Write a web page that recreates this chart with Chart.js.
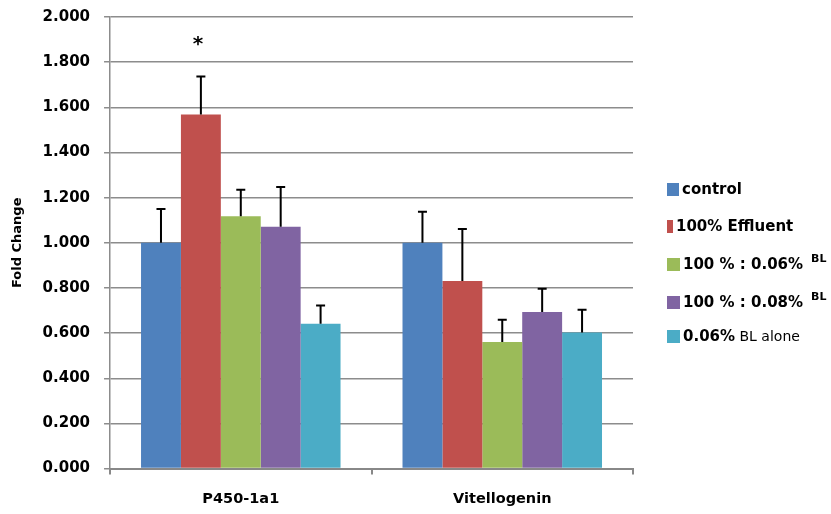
<!DOCTYPE html>
<html>
<head>
<meta charset="utf-8">
<script src="https://cdn.jsdelivr.net/npm/chart.js@4.4.1/dist/chart.umd.min.js"></script>
<style>
  html, body { margin: 0; padding: 0; background: #fff; }
  #wrap { position: relative; width: 831px; height: 514px; }
  #legend { position: absolute; left: 667px; top: 0; font-family: "DejaVu Sans", sans-serif; color: #000; }
  .item { position: absolute; left: 0; white-space: nowrap; display: flex; align-items: center; height: 18px; }
  .sw { height: 13px; margin-right: 3px; }
  .b { font-weight: bold; font-size: 15px; }
  .r { font-weight: normal; font-size: 14px; }
  sup { font-size: 11px; font-weight: bold; position: relative; top: -6px; vertical-align: baseline; margin-left: 8px; }
</style>
</head>
<body>
<div id="wrap">
  <canvas id="chart" width="831" height="514"></canvas>
  <div id="legend"></div>
</div>
<script>
// data
const genes = ['P450-1a1', 'Vitellogenin']
const seriesNames = ['control', '100% Effluent', '100 % : 0.06% BL', '100 % : 0.08% BL', '0.06% BL alone']
const colors = ['#4F81BD', '#C0504D', '#9BBB59', '#8064A2', '#4BACC6']

const control = [1.000, 1.000]
const effluent = [1.568, 0.831]
const mix006 = [1.118, 0.561]
const mix008 = [1.071, 0.694]
const blAlone = [0.642, 0.603]

// upper error (+SD)
const errControl = [0.150, 0.138]
const errEffluent = [0.168, 0.230]
const errMix006 = [0.117, 0.098]
const errMix008 = [0.176, 0.103]
const errBlAlone = [0.080, 0.100]

const yTicks = [0, 0.2, 0.4, 0.6, 0.8, 1.0, 1.2, 1.4, 1.6, 1.8, 2.0]

// significance marks: series index, category index
const sigMarks = [{ series: 1, index: 0, text: '*' }]

const values = [control, effluent, mix006, mix008, blAlone]
const errors = [errControl, errEffluent, errMix006, errMix008, errBlAlone]

const tickFont = { family: 'DejaVu Sans', size: 15, weight: 'bold' }

//Error bars + asterisk
const errorBars = {
    id: 'errorBars',
    afterDatasetsDraw(chart) {
        const ctx = chart.ctx
        const y = chart.scales.y
        ctx.save()
        ctx.strokeStyle = '#000'
        ctx.lineWidth = 2
        chart.data.datasets.forEach((ds, i) => {
            const meta = chart.getDatasetMeta(i)
            meta.data.forEach((bar, j) => {
                const top = y.getPixelForValue(ds.data[j] + ds.err[j])
                ctx.beginPath()
                ctx.moveTo(bar.x, bar.y)
                ctx.lineTo(bar.x, top)
                ctx.moveTo(bar.x - 4.5, top)
                ctx.lineTo(bar.x + 4.5, top)
                ctx.stroke()
            })
        })
        ctx.fillStyle = '#000'
        ctx.font = 'bold 20px "DejaVu Sans"'
        ctx.textAlign = 'center'
        ctx.textBaseline = 'middle'
        sigMarks.forEach(m => {
            const bar = chart.getDatasetMeta(m.series).data[m.index]
            const ds = chart.data.datasets[m.series]
            const top = y.getPixelForValue(ds.data[m.index] + ds.err[m.index])
            ctx.fillText(m.text, bar.x - 3, top - 32)
        })
        ctx.restore()
    }
}

const chart = new Chart(document.getElementById('chart'), {
    type: 'bar',
    data: {
        labels: genes,
        datasets: values.map((v, i) => ({
            label: seriesNames[i],
            data: v,
            err: errors[i],
            backgroundColor: colors[i],
            categoryPercentage: 0.763,
            barPercentage: 1.0
        }))
    },
    options: {
        responsive: false,
        animation: false,
        layout: { padding: { top: 17, right: 198, bottom: -10, left: 10 } },
        plugins: {
            legend: { display: false },
            tooltip: { enabled: false }
        },
        scales: {
            x: {
                grid: { display: true, drawOnChartArea: false, offset: true, tickLength: 6, color: '#888', lineWidth: 2 },
                border: { color: '#888', width: 2 },
                ticks: { color: '#000', padding: 16, font: { family: 'DejaVu Sans', size: 14.5, weight: 'bold' } }
            },
            y: {
                min: 0,
                max: 2,
                afterBuildTicks: axis => { axis.ticks = yTicks.map(v => ({ value: v })) },
                // tick padding would otherwise also push the plot top down
                afterFit: axis => { axis.paddingTop = 0; axis.paddingBottom = 0 },
                grid: { color: '#8c8c8c', lineWidth: 1.5, tickLength: 6 },
                border: { color: '#8c8c8c', width: 1.5 },
                ticks: {
                    color: '#000',
                    padding: 14,
                    font: tickFont,
                    callback: v => v.toFixed(3)
                },
                title: {
                    display: true,
                    text: 'Fold Change',
                    color: '#000',
                    padding: { top: 0, bottom: 3 },
                    font: { family: 'DejaVu Sans', size: 13, weight: 'bold' }
                }
            }
        }
    },
    plugins: [errorBars]
})

// Legend (html, mixed formatting like the original)
const legendRows = [
    { top: 180, w: 12, html: '<span class="b">control</span>' },
    { top: 217, w: 6, html: '<span class="b">100% Effluent</span>' },
    { top: 255, w: 13, html: '<span class="b">100 % : 0.06%</span><sup>BL</sup>' },
    { top: 293, w: 13, html: '<span class="b">100 % : 0.08%</span><sup>BL</sup>' },
    { top: 327, w: 13, html: '<span class="b">0.06%</span><span class="r">&nbsp;BL alone</span>' }
]
const legend = document.getElementById('legend')
legendRows.forEach((row, i) => {
    const d = document.createElement('div')
    d.className = 'item'
    d.style.top = row.top + 'px'
    d.innerHTML = '<span class="sw" style="width:' + row.w + 'px;background:' + colors[i] + '"></span>' + row.html
    legend.appendChild(d)
})
</script>
</body>
</html>
